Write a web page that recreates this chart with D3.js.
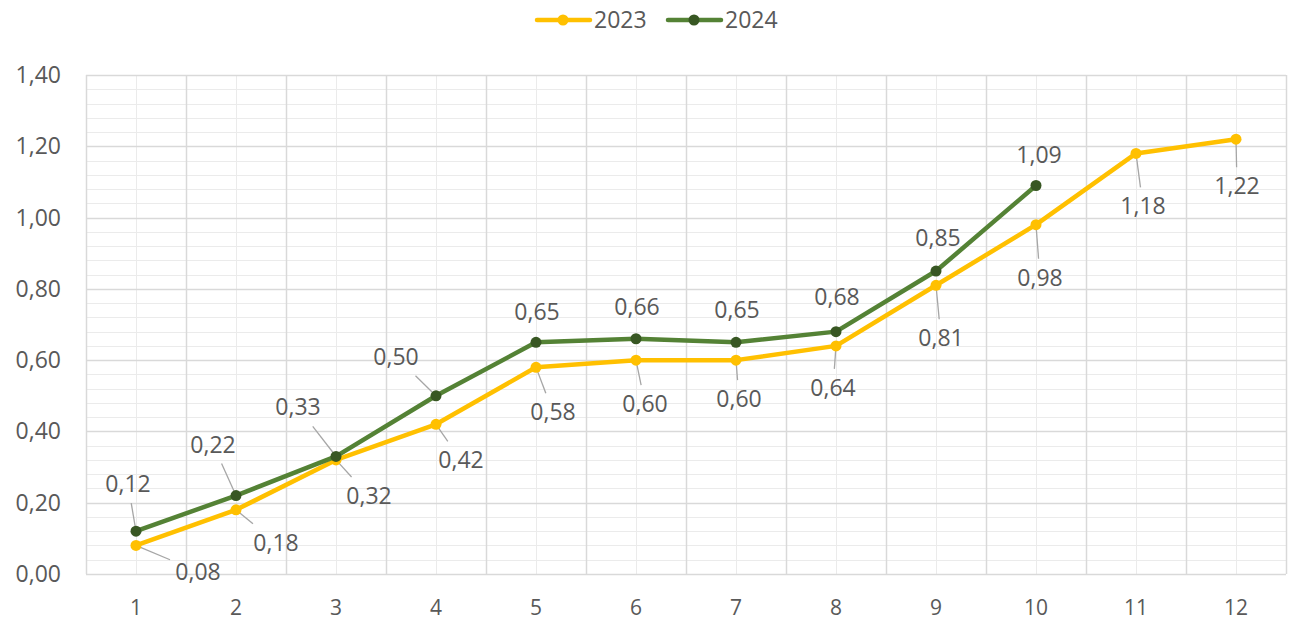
<!DOCTYPE html>
<html>
<head>
<meta charset="utf-8">
<script src="https://cdn.jsdelivr.net/npm/d3@7"></script>
<style>
  * { margin: 0; padding: 0; }
  body { background: #fff; }
  text { font-family: "Open Sans", "Noto Sans", sans-serif; fill: #595959; }
</style>
</head>
<body>
<script>
// data
var months = [1, 2, 3, 4, 5, 6, 7, 8, 9, 10, 11, 12];
var values2023 = [0.08, 0.18, 0.32, 0.42, 0.58, 0.60, 0.60, 0.64, 0.81, 0.98, 1.18, 1.22];
var values2024 = [0.12, 0.22, 0.33, 0.50, 0.65, 0.66, 0.65, 0.68, 0.85, 1.09];
var yTicks = [0, 0.2, 0.4, 0.6, 0.8, 1.0, 1.2, 1.4];

// label placement (pixel offset of label from point, leader line on/off)
var off2023 = [[62, 26, 1], [40, 33, 1], [33, 36, 1], [25, 36, 1], [17, 45, 1], [9, 44, 1],
               [3, 39, 1], [-3, 42, 1], [5, 53, 1], [4, 53, 1], [7, 53, 1], [1, 47, 1]];
var off2024 = [[-8, -47, 1], [-23, -51, 1], [-38, -49, 1], [-40, -39, 1], [1, -30, 0], [1, -32, 0],
               [1, -32, 0], [1, -35, 0], [2, -33, 0], [3, -31, 0]];

var w = 1290, h = 621;
var padLeft = 86, padRight = 1286, padTop = 75, padBottom = 574;
var fontSize = "23px";

var svg = d3.select("body").append("svg").attr("width", w).attr("height", h);

var x = d3.scaleBand().domain(months).range([padLeft, padRight]);
var y = d3.scaleLinear().domain([0, 1.4]).range([padBottom, padTop]);
var fmt = function(v) { return d3.format(".2f")(v).replace(".", ","); };

// minor gridlines
var minor = d3.range(0, 1.4001, 0.04);
svg.append("g").selectAll("line").data(minor).enter().append("line")
  .attr("x1", padLeft).attr("x2", padRight)
  .attr("y1", function(d) { return Math.round(y(d)) + 0.5; })
  .attr("y2", function(d) { return Math.round(y(d)) + 0.5; })
  .attr("stroke", "#ebebeb").attr("stroke-width", 1);
svg.append("g").selectAll("line").data(months).enter().append("line")
  .attr("x1", function(d) { return Math.round(x(d) + x.bandwidth() / 2) + 0.5; })
  .attr("x2", function(d) { return Math.round(x(d) + x.bandwidth() / 2) + 0.5; })
  .attr("y1", padTop).attr("y2", padBottom)
  .attr("stroke", "#ebebeb").attr("stroke-width", 1);

// major gridlines
svg.append("g").selectAll("line").data(yTicks).enter().append("line")
  .attr("x1", padLeft).attr("x2", padRight)
  .attr("y1", function(d) { return Math.round(y(d)) + 0.5; })
  .attr("y2", function(d) { return Math.round(y(d)) + 0.5; })
  .attr("stroke", "#d9d9d9").attr("stroke-width", 1.5);
svg.append("g").selectAll("line").data(months.concat([13])).enter().append("line")
  .attr("x1", function(d) { return d == 13 ? padRight + 0.5 : Math.round(x(d)) + 0.5; })
  .attr("x2", function(d) { return d == 13 ? padRight + 0.5 : Math.round(x(d)) + 0.5; })
  .attr("y1", padTop).attr("y2", padBottom)
  .attr("stroke", "#d9d9d9").attr("stroke-width", 1.5);

// axis labels
svg.append("g").selectAll("text").data(yTicks).enter().append("text")
  .attr("x", 61).attr("y", function(d) { return y(d); })
  .attr("dy", "0.35em").attr("text-anchor", "end")
  .style("font-size", fontSize).text(fmt);
svg.append("g").selectAll("text").data(months).enter().append("text")
  .attr("x", function(d) { return x(d) + x.bandwidth() / 2; })
  .attr("y", 615).attr("text-anchor", "middle")
  .style("font-size", "21px").text(function(d) { return d; });

var cx = function(d, i) { return x(months[i]) + x.bandwidth() / 2; };
var line = d3.line().x(cx).y(function(d) { return y(d); });

// fraction of point->label distance where the leader meets the label box
function reach(o) {
  var t = Math.min(Math.abs(o[0]) > 0 ? 28 / Math.abs(o[0]) : 9,
                   Math.abs(o[1]) > 0 ? 19 / Math.abs(o[1]) : 9);
  return Math.max(1 - t, 0.3);
}
function start(o) {
  return 3 / Math.sqrt(o[0] * o[0] + o[1] * o[1]);
}

function drawSeries(vals, offs, color, markColor) {
  var g = svg.append("g");
  var pts = vals.map(function(v, i) { return { v: v, i: i, o: offs[i] }; });
  // leader lines
  g.selectAll("line").data(pts.filter(function(p) { return p.o[2]; })).enter()
    .append("line")
    .attr("x1", function(p) { return cx(p.v, p.i) + p.o[0] * start(p.o); })
    .attr("y1", function(p) { return y(p.v) + p.o[1] * start(p.o); })
    .attr("x2", function(p) { return cx(p.v, p.i) + p.o[0] * reach(p.o); })
    .attr("y2", function(p) { return y(p.v) + p.o[1] * reach(p.o); })
    .attr("stroke", "#a6a6a6").attr("stroke-width", 1.3);

  g.append("path").datum(vals)
    .attr("d", line).attr("fill", "none")
    .attr("stroke", color).attr("stroke-width", 4.5)
    .attr("stroke-linejoin", "round").attr("stroke-linecap", "round");

  g.selectAll("circle").data(vals).enter().append("circle")
    .attr("cx", cx).attr("cy", function(d) { return y(d); })
    .attr("r", 5.5).attr("fill", markColor);

  g.selectAll("text").data(vals).enter().append("text")
    .attr("x", function(d, i) { return cx(d, i) + offs[i][0]; })
    .attr("y", function(d, i) { return y(d) + offs[i][1]; })
    .attr("dy", "0.35em").attr("text-anchor", "middle")
    .style("font-size", fontSize).text(fmt);
}

drawSeries(values2023, off2023, "#ffc000", "#ffc000");
drawSeries(values2024, off2024, "#548235", "#385723");

// legend
var legend = [["2023", "#ffc000", "#ffc000", 537], ["2024", "#548235", "#385723", 668]];
var lg = svg.append("g").selectAll("g").data(legend).enter().append("g")
  .attr("transform", function(d) { return "translate(" + d[3] + ",20)"; });
lg.append("line").attr("x1", 0).attr("x2", 53).attr("y1", 0).attr("y2", 0)
  .attr("stroke", function(d) { return d[1]; }).attr("stroke-width", 4.5)
  .attr("stroke-linecap", "round");
lg.append("circle").attr("cx", 26).attr("cy", 0).attr("r", 5.5)
  .attr("fill", function(d) { return d[2]; });
lg.append("text").attr("x", 57).attr("y", 0).attr("dy", "0.35em")
  .style("font-size", fontSize).text(function(d) { return d[0]; });
</script>
</body>
</html>
